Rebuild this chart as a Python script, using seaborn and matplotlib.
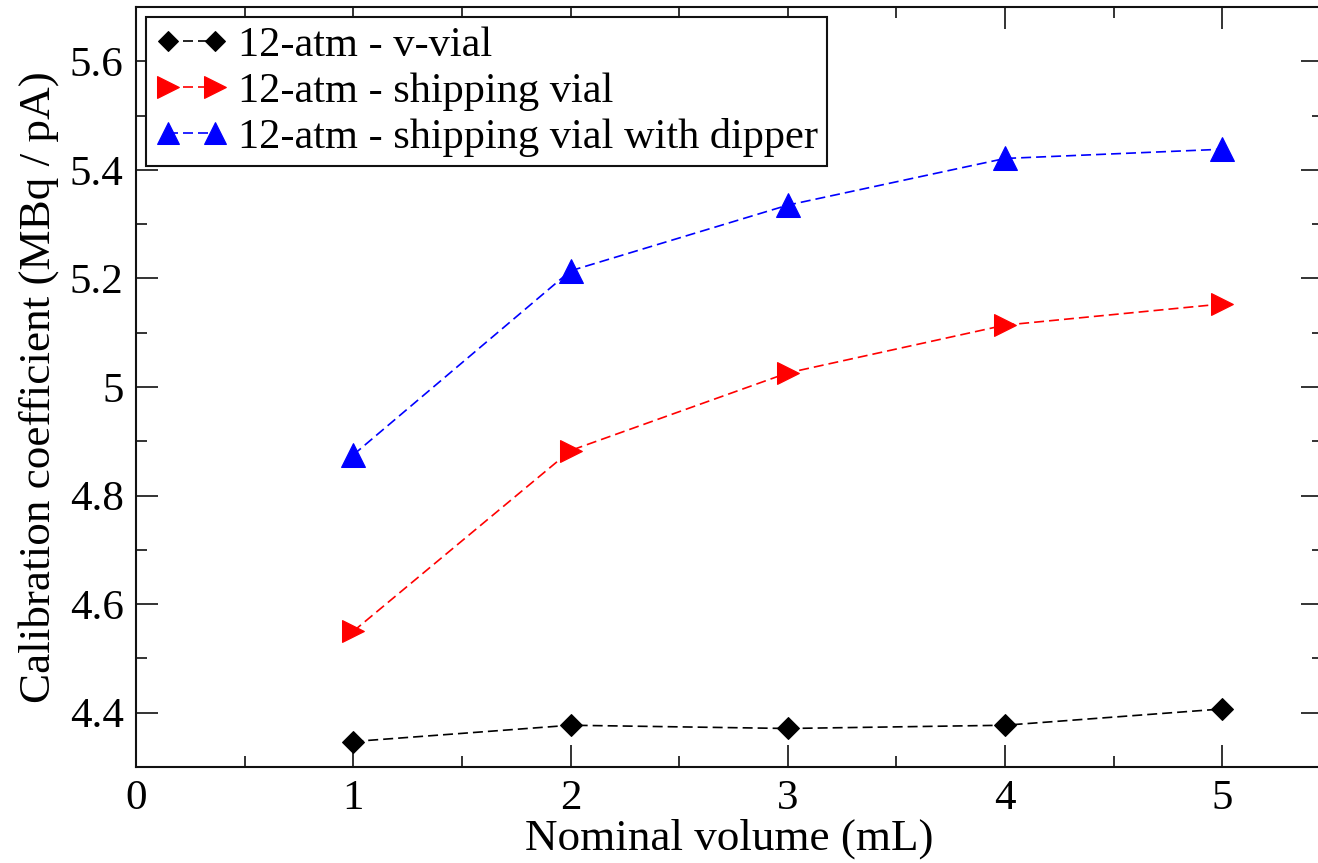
import matplotlib
matplotlib.use("Agg")
import matplotlib.pyplot as plt
import seaborn as sns
import pandas as pd
from matplotlib.ticker import MultipleLocator

volumes = [1, 2, 3, 4, 5]
v_vial = [4.347, 4.377, 4.371, 4.377, 4.407]
shipping_vial = [4.550, 4.883, 5.026, 5.114, 5.153]
shipping_dipper = [4.875, 5.214, 5.335, 5.421, 5.438]
labels = ["12-atm - v-vial", "12-atm - shipping vial", "12-atm - shipping vial with dipper"]
ytick_vals = [4.4, 4.6, 4.8, 5.0, 5.2, 5.4, 5.6]
ytick_labels = ["4.4", "4.6", "4.8", "5", "5.2", "5.4", "5.6"]

sns.set_style("ticks")
plt.rcParams['font.family'] = ['Liberation Serif', 'DejaVu Serif']
plt.rcParams.update({"text.color": "black", "axes.labelcolor": "black",
                     "xtick.color": "black", "ytick.color": "black",
                     "axes.edgecolor": "black"})

fig = plt.figure(figsize=(13.18, 8.63), dpi=100)
ax = fig.add_axes([0.1032, 0.1112, 0.9008, 0.8807])

series = [
    (v_vial, labels[0], "black", "D", 11),
    (shipping_vial, labels[1], "red", ">", 16),
    (shipping_dipper, labels[2], "blue", "^", 17),
]
for vals, lab, col, mk, ms in series:
    df = pd.DataFrame({"x": volumes, "y": vals})
    sns.lineplot(data=df, x="x", y="y", ax=ax, color=col, marker=mk, markersize=ms,
                 markeredgecolor=col, linestyle=(0, (6, 3)), linewidth=1.2, label=lab)

ax.set_xlim(0, 5.465)
ax.set_ylim(4.3, 5.7)
ax.xaxis.set_major_locator(MultipleLocator(1))
ax.xaxis.set_minor_locator(MultipleLocator(0.5))
ax.yaxis.set_minor_locator(MultipleLocator(0.1))
ax.set_yticks(ytick_vals)
ax.set_yticklabels(ytick_labels)
ax.tick_params(which="both", direction="in", top=True, right=True, color="#111111", width=1.2,
               labelsize=31, pad=9, labelcolor="black")
ax.tick_params(which="major", length=16)
ax.tick_params(which="minor", length=8)
for s in ax.spines.values():
    s.set_linewidth(1.5)
    s.set_color("#111111")

ax.set_xlabel("Nominal volume (mL)", fontsize=32.5, labelpad=0, color="black")
ax.set_ylabel("Calibration coefficient (MBq / pA)", fontsize=32.5, labelpad=8, color="black")

leg = ax.legend(loc="upper left", bbox_to_anchor=(0.0085, 0.987), borderaxespad=0,
                fontsize=30.5, numpoints=2, handlelength=1.7, handletextpad=0.25,
                labelspacing=0.17, borderpad=0.22, fancybox=False, framealpha=1,
                edgecolor="#111111", markerscale=0.95)
leg.get_frame().set_linewidth(1.5)
for t in leg.get_texts():
    t.set_color("black")

fig.savefig("out.png", dpi=100)
